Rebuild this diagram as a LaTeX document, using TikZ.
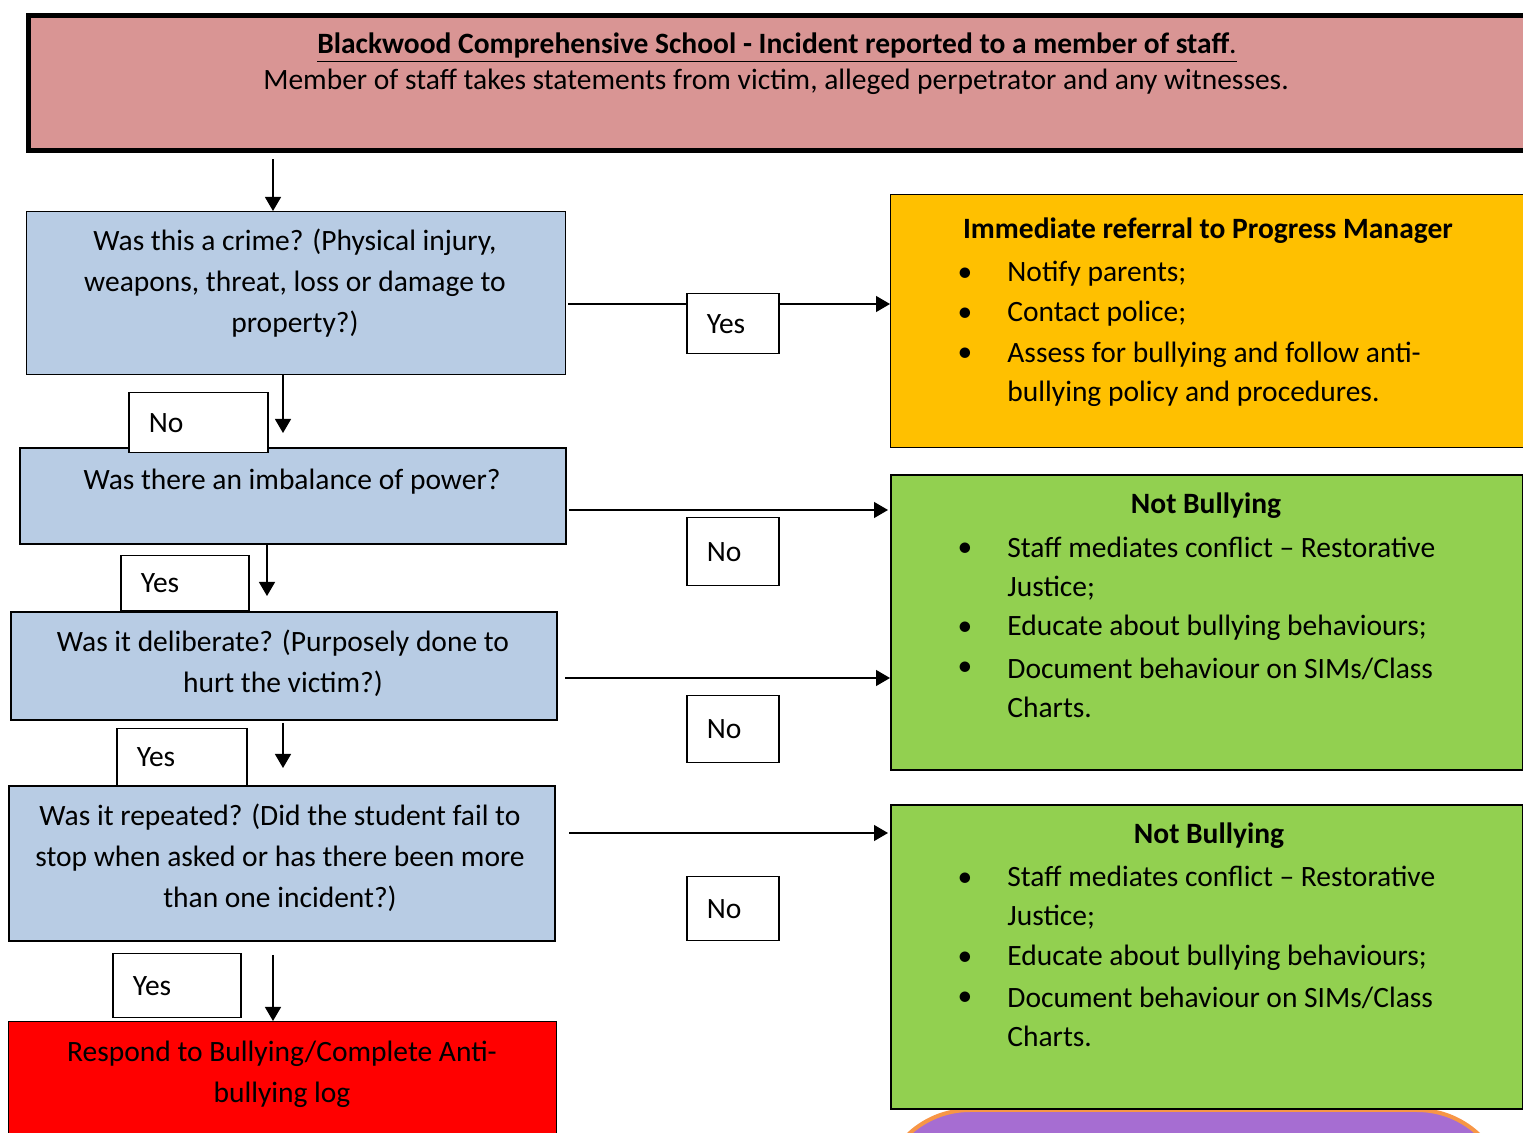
\documentclass[tikz,border=0pt]{standalone}
\usepackage{fontspec}
\setmainfont{Carlito}
\usetikzlibrary{arrows.meta}
\definecolor{pinkbox}{HTML}{D99594}
\definecolor{bluebox}{HTML}{B8CCE4}
\definecolor{orangebox}{HTML}{FFC000}
\definecolor{greenbox}{HTML}{92D050}
\definecolor{redbox}{HTML}{FF0000}
\definecolor{purplebox}{HTML}{A66DD2}
\definecolor{orangeline}{HTML}{F79646}
\begin{document}
\begin{tikzpicture}[x=0.5pt,y=-0.5pt,
  shape box/.style={draw, anchor=north west, inner sep=0pt},
  qbox/.style={shape box, fill=bluebox, line width=1pt},
  txt/.style={font=\fontsize{14.75pt}{20.5pt}\selectfont, inner sep=0pt, align=center, text=black},
  ltxt/.style={font=\fontsize{14.75pt}{19.5pt}\selectfont, inner sep=0pt, align=left, text=black},
  lbl/.style={draw, fill=white, line width=0.75pt, anchor=north west, inner xsep=10pt, inner ysep=0pt, align=left, font=\fontsize{14.75pt}{16pt}\selectfont},
  arr/.style={line width=0.6pt, -{Triangle[length=7pt,width=8pt]}}
]
\useasboundingbox (0,0) rectangle (1523,1133);
\clip (0,0) rectangle (1523,1133);

% purple shape (behind)
\draw[orangeline, line width=2pt, fill=purplebox, rounded corners=45pt] (880,1110) rectangle (1507,1500);

% boxes
\node[shape box, fill=pinkbox, line width=2.5pt, minimum width=752.5pt, minimum height=67.5pt] (top) at (26,13.5) {};
\node[shape box, fill=bluebox, line width=0.6pt, minimum width=269.5pt, minimum height=81.5pt] (box1) at (26,211) {};
\node[shape box, fill=orangebox, line width=0.6pt, minimum width=320pt, minimum height=126.5pt] (orange) at (890,194) {};
\node[qbox, minimum width=273pt, minimum height=48pt] (box2) at (19,447) {};
\node[shape box, fill=greenbox, line width=1pt, minimum width=316pt, minimum height=147.5pt] (green1) at (890,474) {};
\node[qbox, minimum width=273pt, minimum height=54pt] (box3) at (10,611) {};
\node[qbox, minimum width=273pt, minimum height=77.5pt] (box4) at (8,785) {};
\node[shape box, fill=greenbox, line width=1pt, minimum width=316pt, minimum height=152pt] (green2) at (890,804) {};
\node[shape box, fill=redbox, line width=0.6pt, minimum width=274pt, minimum height=75pt] (red) at (8,1021) {};

% helper coordinates
\coordinate (x273) at (273,0);
\coordinate (x283) at (283,0);
\coordinate (x267) at (267,0);
\coordinate (y304) at (0,304);
\coordinate (y510) at (0,510);
\coordinate (y678) at (0,678);
\coordinate (y833) at (0,833);

% connectors
\draw[arr, shorten <=3pt] (top.south -| x273) -- (box1.north -| x273);
\draw[arr, shorten >=7pt] (box1.south -| x283) -- (box2.north -| x283);
\draw[arr, shorten >=7.5pt] (box2.south -| x267) -- (box3.north -| x267);
\draw[arr, shorten <=1pt, shorten >=8.5pt] (box3.south -| x283) -- (box4.north -| x283);
\draw[arr, shorten <=6.5pt] (box4.south -| x273) -- (red.north -| x273);
\draw[arr, shorten <=1pt] (box1.east |- y304) -- (orange.west |- y304);
\draw[arr, shorten <=1pt, shorten >=1pt] (box2.east |- y510) -- (green1.west |- y510);
\draw[arr, shorten <=3.5pt] (box3.east |- y678) -- (green1.west |- y678);
\draw[arr, shorten <=6.5pt, shorten >=1pt] (box4.east |- y833) -- (green2.west |- y833);

% labels
\node[lbl, minimum width=46pt, text width=26pt, minimum height=30pt] (yes1) at (686,293) {Yes};
\node[lbl, minimum width=69.5pt, text width=49.5pt, minimum height=30pt] (no1) at (128,392) {No};
\node[lbl, minimum width=46pt, text width=26pt, minimum height=34pt] (no2) at (686,517) {No};
\node[lbl, minimum width=64pt, text width=44pt, minimum height=27.5pt] (yes2) at (120,555) {Yes};
\node[lbl, minimum width=46pt, text width=26pt, minimum height=33.5pt] (no3) at (686,695) {No};
\node[lbl, minimum width=65pt, text width=45pt, minimum height=28.5pt] (yes3) at (116,728) {Yes};
\node[lbl, minimum width=46pt, text width=26pt, minimum height=32pt] (no4) at (686,876) {No};
\node[lbl, minimum width=64pt, text width=44pt, minimum height=32pt] (yes4) at (112,953) {Yes};

% top text
\node[txt, anchor=mid] (toptitle) at (777,49) {\underline{\textbf{Blackwood Comprehensive School - Incident reported to a member of staff}.}};
\node[txt, anchor=mid] (topline) at (776,85) {Member of staff takes statements from victim, alleged perpetrator and any witnesses.};

% question texts
\node[txt] (t1) at (295,283) {Was this a crime? (Physical injury,\\weapons, threat, loss or damage to\\property?)};
\node[txt, anchor=mid] (t2) at (292,485) {Was there an imbalance of power?};
\node[txt] (t3) at (283,663) {Was it deliberate? (Purposely done to\\hurt the victim?)};
\node[txt] (t4) at (280,858) {Was it repeated? (Did the student fail to\\stop when asked or has there been more\\than one incident?)};
\node[txt] (t5) at (282,1074) {Respond to Bullying/Complete Anti-\\bullying log};

% orange box text
\node[txt, anchor=mid] (ot) at (1208,234) {\textbf{Immediate referral to Progress Manager}};
\foreach \yy in {277,317,357} \node[txt, anchor=mid] at (965,\yy) {•};
\node[ltxt, anchor=mid west] (o1) at (1007,277) {Notify parents;};
\node[ltxt, anchor=mid west] (o2) at (1007,317) {Contact police;};
\node[ltxt, anchor=west] (o3) at (1007,374) {Assess for bullying and follow anti-\\bullying policy and procedures.};

% green box 1 text
\node[txt, anchor=mid] (g1t) at (1206,509) {\textbf{Not Bullying}};
\foreach \yy in {552,631,671} \node[txt, anchor=mid] at (965,\yy) {•};
\node[ltxt, anchor=west] (g11) at (1007,568.5) {Staff mediates conflict – Restorative\\Justice;};
\node[ltxt, anchor=mid west] (g12) at (1007,631) {Educate about bullying behaviours;};
\node[ltxt, anchor=west] (g13) at (1007,687.5) {Document behaviour on SIMs/Class\\Charts.};

% green box 2 text
\node[txt, anchor=mid] (g2t) at (1209,839) {\textbf{Not Bullying}};
\foreach \yy in {882,961,1001} \node[txt, anchor=mid] at (965,\yy) {•};
\node[ltxt, anchor=west] (g21) at (1007,898) {Staff mediates conflict – Restorative\\Justice;};
\node[ltxt, anchor=mid west] (g22) at (1007,961) {Educate about bullying behaviours;};
\node[ltxt, anchor=west] (g23) at (1007,1017) {Document behaviour on SIMs/Class\\Charts.};
\end{tikzpicture}
\end{document}
